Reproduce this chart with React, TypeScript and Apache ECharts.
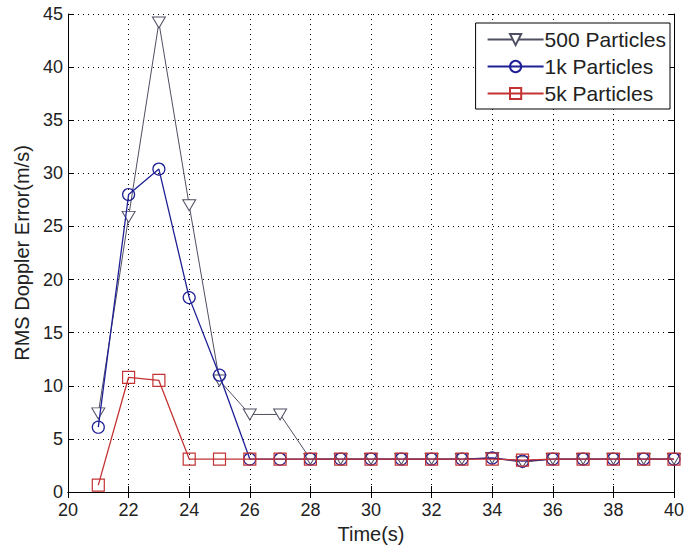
import React, { useEffect, useRef } from "react";
import * as echarts from "echarts";

const times = [21, 22, 23, 24, 25, 26, 27, 28, 29, 30, 31, 32, 33, 34, 35, 36, 37, 38, 39, 40];
const p500 = [7.4, 25.9, 44.2, 27.0, 10.5, 7.3, 7.3, 3.1, 3.1, 3.1, 3.1, 3.1, 3.1, 3.2, 2.8, 3.1, 3.1, 3.1, 3.1, 3.1];
const p1k = [6.1, 28.0, 30.4, 18.3, 11.0, 3.1, 3.1, 3.1, 3.1, 3.1, 3.1, 3.1, 3.1, 3.2, 2.9, 3.1, 3.1, 3.1, 3.1, 3.1];
const p5k = [0.65, 10.8, 10.5, 3.1, 3.1, 3.1, 3.1, 3.1, 3.1, 3.1, 3.1, 3.1, 3.1, 3.1, 3.0, 3.1, 3.1, 3.1, 3.1, 3.1];
const seriesNames = ["500 Particles", "1k Particles", "5k Particles"];

const FONT = "'Liberation Sans', Arial, sans-serif";
const TXT = "#222";

export default function App() {
  const ref = useRef<HTMLDivElement>(null);
  useEffect(() => {
    if (!ref.current) return;
    const chart = echarts.init(ref.current, undefined, { renderer: "svg" });
    const pair = (ys: number[]) => times.map((t, i) => [t, ys[i]]);
    const axisCommon = {
      axisLine: { show: true, lineStyle: { color: "#000", width: 1 } },
      axisTick: { show: true, inside: true, length: 6, lineStyle: { color: "#000" } },
    };
    chart.setOption({
      animation: false,
      backgroundColor: "#fff",
      grid: { left: 68, right: 9, top: 14, bottom: 58, containLabel: false },
      legend: {
        right: 17,
        top: 23,
        orient: "vertical",
        backgroundColor: "#fff",
        borderColor: "#000",
        borderWidth: 1,
        borderRadius: 0,
        padding: [6, 4, 5, 11],
        itemGap: 6,
        itemWidth: 56,
        itemHeight: 14,
        textStyle: { fontFamily: FONT, fontSize: 21, color: TXT, padding: [0, 0, 0, -4] },
        data: seriesNames,
      },
      xAxis: [
        {
          type: "value",
          min: 20,
          max: 40,
          interval: 2,
          position: "bottom",
          name: "Time(s)",
          nameLocation: "middle",
          nameGap: 28,
          nameTextStyle: { fontFamily: FONT, fontSize: 20, color: TXT },
          axisLabel: { fontFamily: FONT, fontSize: 18, color: TXT, margin: 9 },
          splitLine: { show: true, lineStyle: { color: "#000", type: [1, 4], width: 1 } },
          ...axisCommon,
        },
        {
          type: "value",
          min: 20,
          max: 40,
          interval: 2,
          position: "top",
          axisLabel: { show: false },
          splitLine: { show: false },
          ...axisCommon,
        },
      ],
      yAxis: [
        {
          type: "value",
          min: 0,
          max: 45,
          interval: 5,
          position: "left",
          name: "RMS Doppler Error(m/s)",
          nameLocation: "middle",
          nameGap: 36,
          nameTextStyle: { fontFamily: FONT, fontSize: 20, color: TXT },
          axisLabel: { fontFamily: FONT, fontSize: 18, color: TXT, margin: 5 },
          splitLine: { show: true, lineStyle: { color: "#000", type: [1, 4], width: 1 } },
          ...axisCommon,
        },
        {
          type: "value",
          min: 0,
          max: 45,
          interval: 5,
          position: "right",
          axisLabel: { show: false },
          splitLine: { show: false },
          ...axisCommon,
        },
      ],
      series: [
        {
          name: seriesNames[0],
          type: "line",
          data: pair(p500),
          symbol: "path://M0,0 L10,0 L5,8 Z",
          symbolSize: [13, 11],
          lineStyle: { color: "#4f4f63", width: 1 },
          itemStyle: { color: "#fff", borderColor: "#4f4f63", borderWidth: 1 },
          z: 3,
        },
        {
          name: seriesNames[1],
          type: "line",
          data: pair(p1k),
          symbol: "circle",
          symbolSize: 12,
          lineStyle: { color: "#1f1f96", width: 1.3 },
          itemStyle: { color: "rgba(255,255,255,0)", borderColor: "#1f1f96", borderWidth: 1.2 },
          z: 4,
        },
        {
          name: seriesNames[2],
          type: "line",
          data: pair(p5k),
          symbol: "rect",
          symbolSize: 12,
          lineStyle: { color: "#c43333", width: 1.3 },
          itemStyle: { color: "rgba(255,255,255,0)", borderColor: "#c43333", borderWidth: 1.2 },
          z: 5,
        },
      ],
    });
    return () => chart.dispose();
  }, []);
  return <div ref={ref} style={{ width: 687, height: 550, position: "absolute", left: 0, top: 0 }} />;
}
